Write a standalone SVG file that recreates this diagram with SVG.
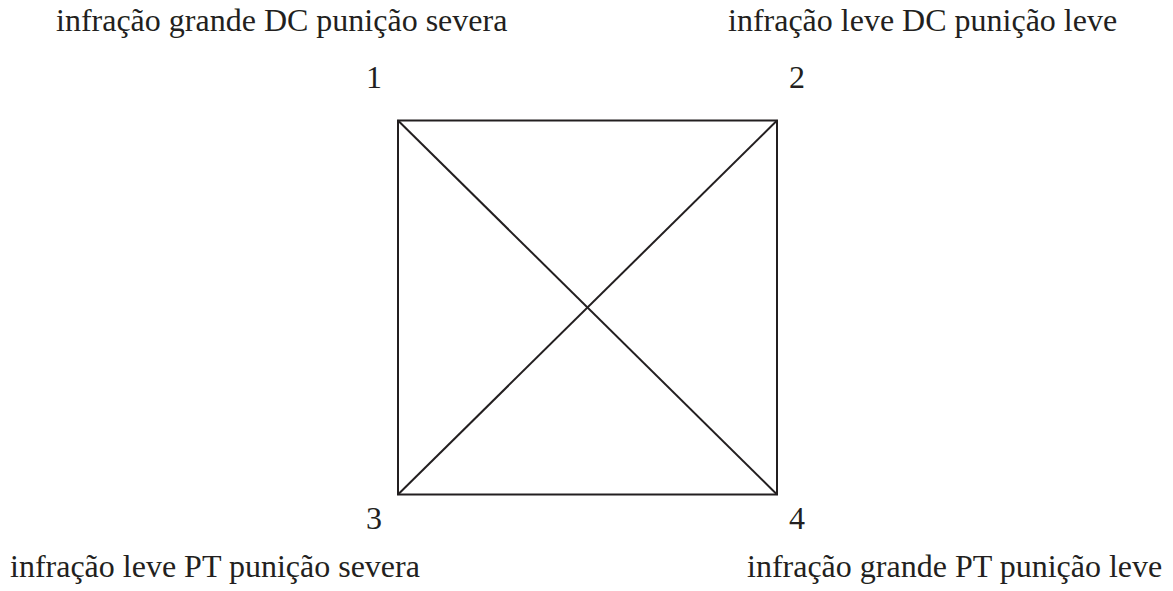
<svg xmlns="http://www.w3.org/2000/svg" width="1173" height="591" viewBox="0 0 1173 591">
<style>
text{font-family:"Liberation Serif","Times New Roman",serif;font-size:32px;fill:#231f20}
.ln{stroke:#231f20;stroke-width:2;fill:none}
</style>
<rect width="1173" height="591" fill="#fff"/>
<g id="connectors">
<rect class="ln" x="398" y="120.5" width="379" height="374"/>
<line class="ln" x1="398" y1="120.5" x2="777" y2="494.5"/>
<line class="ln" x1="777" y1="120.5" x2="398" y2="494.5"/>
</g>
<g id="n1"><text x="366" y="88">1</text><text x="56" y="31">infração grande DC punição severa</text></g>
<g id="n2"><text x="789" y="88">2</text><text x="728" y="31">infração leve DC punição leve</text></g>
<g id="n3"><text x="366" y="529">3</text><text x="10" y="577">infração leve PT punição severa</text></g>
<g id="n4"><text x="789" y="529">4</text><text x="747" y="577">infração grande PT punição leve</text></g>
</svg>
